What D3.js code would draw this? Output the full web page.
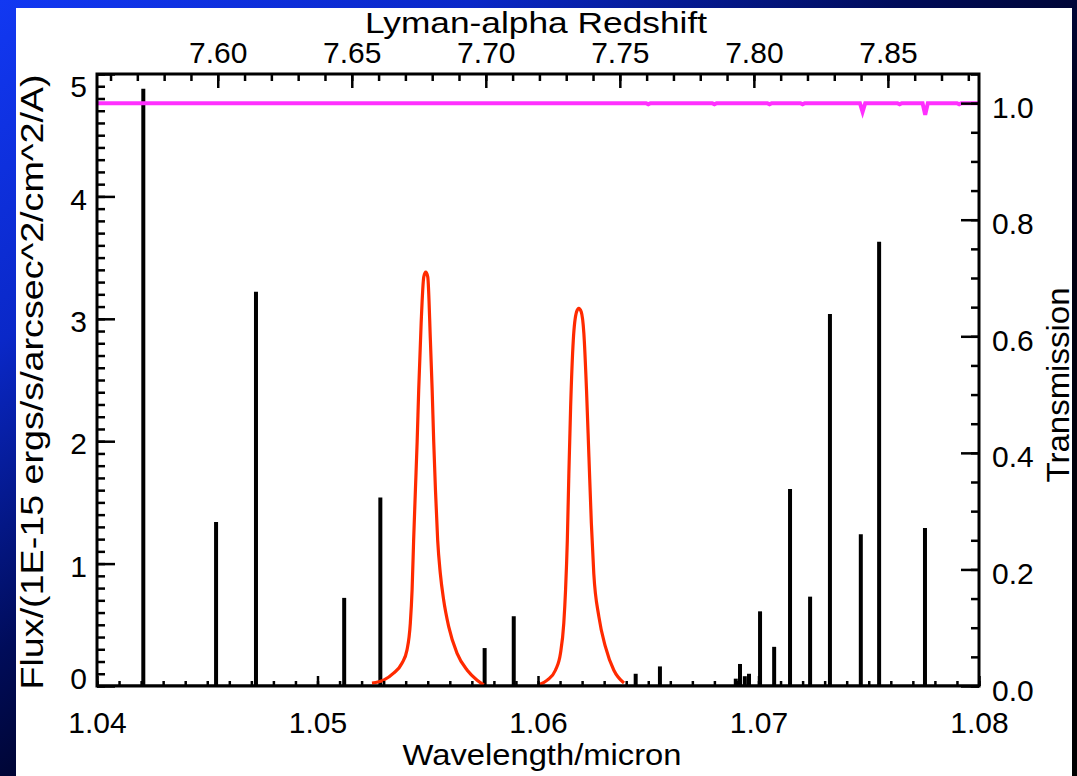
<!DOCTYPE html>
<html>
<head>
<meta charset="utf-8">
<script src="https://cdn.jsdelivr.net/npm/d3@7"></script>
<style>
  html, body { margin: 0; padding: 0; background: #000; }
  svg { display: block; }
  text { font-family: "Liberation Sans", Arial, Helvetica, sans-serif; fill: #000; }
</style>
</head>
<body>
<svg id="chart" width="1077" height="776"></svg>
<script>
// ---- Emission lines of the sky spectrum (wavelength in micron, flux in 1E-15 erg/s/arcsec^2/cm^2/A)
const lineWavelengths = [1.04210, 1.04540, 1.04721, 1.05121, 1.05285, 1.05758, 1.05890,
                         1.06443, 1.06553, 1.06897, 1.06916, 1.06938, 1.06957, 1.07007,
                         1.07071, 1.07143, 1.07234, 1.07324, 1.07464, 1.07547, 1.07755];
const lineFluxes      = [4.88, 1.34, 3.22, 0.72, 1.54, 0.31, 0.57,
                         0.10, 0.16, 0.06, 0.18, 0.08, 0.10, 0.61,
                         0.32, 1.61, 0.73, 3.04, 1.24, 3.63, 1.29];

// ---- Narrow-band filter A transmission
const filterAWavelengths = [1.05247, 1.05300, 1.05345, 1.05383, 1.05406, 1.05421, 1.05429,
                            1.05436, 1.05444, 1.05452, 1.05459, 1.05470, 1.05482, 1.05491,
                            1.05500, 1.05512, 1.05520, 1.05527, 1.05535, 1.05545, 1.05557,
                            1.05572, 1.05595, 1.05633, 1.05679, 1.05724, 1.05754];
const filterATrans       = [0.005, 0.010, 0.022, 0.039, 0.062, 0.108, 0.165,
                            0.250, 0.336, 0.420, 0.508, 0.622, 0.702, 0.710,
                            0.702, 0.593, 0.508, 0.420, 0.336, 0.250, 0.193,
                            0.148, 0.102, 0.056, 0.027, 0.010, 0.002];

// ---- Narrow-band filter B transmission
const filterBWavelengths = [1.06004, 1.06042, 1.06079, 1.06102, 1.06117, 1.06125, 1.06133,
                            1.06140, 1.06148, 1.06160, 1.06175, 1.06185, 1.06196, 1.06208,
                            1.06220, 1.06231, 1.06242, 1.06253, 1.06276, 1.06306, 1.06344,
                            1.06390];
const filterBTrans       = [0.002, 0.010, 0.027, 0.056, 0.108, 0.165, 0.250,
                            0.365, 0.479, 0.593, 0.642, 0.648, 0.642, 0.605,
                            0.508, 0.393, 0.279, 0.193, 0.119, 0.067, 0.027,
                            0.005];

// ---- Atmospheric transmission
const atmWavelengths = [1.04000, 1.06490, 1.06500, 1.06510, 1.06790, 1.06800, 1.06810,
                        1.07040, 1.07050, 1.07060, 1.07190, 1.07200, 1.07210,
                        1.07460, 1.07472, 1.07484, 1.07630, 1.07640, 1.07650,
                        1.07744, 1.07756, 1.07768, 1.07900, 1.07910, 1.07920, 1.08000];
const atmTrans       = [1.000, 1.000, 0.998, 1.000, 1.000, 0.998, 1.000,
                        1.000, 0.998, 1.000, 1.000, 0.998, 1.000,
                        1.000, 0.985, 1.000, 1.000, 0.998, 1.000,
                        1.000, 0.980, 1.000, 1.000, 0.998, 1.000, 1.000];

// ---- Axis ticks and labels
const waveTicks   = [1.04, 1.05, 1.06, 1.07, 1.08];
const waveLabels  = ["1.04", "1.05", "1.06", "1.07", "1.08"];
const fluxTicks   = [0, 1, 2, 3, 4, 5];
const fluxLabels  = ["0", "1", "2", "3", "4", "5"];
const transTicks  = [0.0, 0.2, 0.4, 0.6, 0.8, 1.0];
const transLabels = ["0.0", "0.2", "0.4", "0.6", "0.8", "1.0"];
const zTicks      = [7.60, 7.65, 7.70, 7.75, 7.80, 7.85];
const zLabels     = ["7.60", "7.65", "7.70", "7.75", "7.80", "7.85"];

const LYA_REST = 0.121567; // Lyman-alpha rest wavelength, micron

// ---- Layout
const W = 1077, H = 776;
const plot = { left: 97, right: 979, top: 74, bottom: 686 };

const svg = d3.select("#chart");

// Framed background
const defs = svg.append("defs");
const grad = defs.append("linearGradient")
  .attr("id", "bgGrad").attr("x1", 0).attr("y1", 0).attr("x2", 1).attr("y2", 1);
[[0, "#1238f2"], [0.22, "#0a28c8"], [0.42, "#000c5a"], [0.58, "#000016"], [1, "#000000"]]
  .forEach(([o, c]) => grad.append("stop").attr("offset", o).attr("stop-color", c));
svg.append("rect").attr("width", W).attr("height", H).attr("fill", "url(#bgGrad)");
svg.append("rect").attr("x", 16).attr("y", 8).attr("width", 1056).attr("height", H - 8).attr("fill", "#fff");

defs.append("clipPath").attr("id", "plotClip").append("rect")
  .attr("x", plot.left).attr("y", plot.top)
  .attr("width", plot.right - plot.left).attr("height", plot.bottom - plot.top);

// ---- Scales
const x = d3.scaleLinear().domain([1.04, 1.08]).range([plot.left, plot.right]);
const yFlux = d3.scaleLinear().domain([0, 5]).range([plot.bottom, plot.top]);
const yTrans = d3.scaleLinear().domain([0, 1.05]).range([plot.bottom, plot.top]);
const zScale = d3.scaleLinear()
  .domain([1.04 / LYA_REST - 1, 1.08 / LYA_REST - 1])
  .range([plot.left, plot.right]);

const gPlot = svg.append("g").attr("clip-path", "url(#plotClip)");

// ---- Sky emission spectrum: continuum along zero plus one stick per line
gPlot.append("line")
  .attr("x1", x(1.04)).attr("x2", x(1.08))
  .attr("y1", yFlux(0)).attr("y2", yFlux(0))
  .attr("stroke", "#000").attr("stroke-width", 3);
gPlot.selectAll("line.skyline")
  .data(d3.zip(lineWavelengths, lineFluxes))
  .join("line").attr("class", "skyline")
  .attr("x1", d => x(d[0])).attr("x2", d => x(d[0]))
  .attr("y1", yFlux(0)).attr("y2", d => yFlux(d[1]))
  .attr("stroke", "#000").attr("stroke-width", 4);

// ---- Filter transmission curves
const transLine = d3.line()
  .x(d => x(d[0])).y(d => yTrans(d[1]))
  .curve(d3.curveMonotoneX);
[[filterAWavelengths, filterATrans], [filterBWavelengths, filterBTrans]].forEach(([wl, tr]) => {
  gPlot.append("path")
    .datum(d3.zip(wl, tr))
    .attr("d", transLine)
    .attr("fill", "none").attr("stroke", "#ff2a00").attr("stroke-width", 3.2)
    .attr("stroke-linejoin", "round");
});

// ---- Atmospheric transmission
gPlot.append("path")
  .datum(d3.zip(atmWavelengths, atmTrans))
  .attr("d", d3.line().x(d => x(d[0])).y(d => yTrans(d[1])))
  .attr("fill", "none").attr("stroke", "#ff30ff").attr("stroke-width", 4);

// ---- Axes (ticks point inward)
const FONT = 30;
function styleAxis(g) {
  g.select(".domain").remove();
  g.selectAll(".tick line").attr("stroke", "#000").attr("stroke-width", 2.5);
  g.selectAll(".tick text").attr("font-size", FONT).attr("fill", "#000")
    .attr("font-family", "Liberation Sans, Arial, sans-serif");
}
const range01 = (a, b, s) => d3.range(Math.round(a / s), Math.round(b / s) + 1).map(k => +(k * s).toFixed(4));

// Bottom: wavelength
svg.append("g").attr("transform", `translate(0,${plot.bottom})`)
  .call(d3.axisBottom(x).tickValues(range01(1.04, 1.08, 0.001)).tickSize(-5).tickSizeOuter(0).tickFormat(""))
  .call(styleAxis);
svg.append("g").attr("transform", `translate(0,${plot.bottom})`)
  .call(d3.axisBottom(x).tickValues(waveTicks).tickSize(-10).tickSizeOuter(0).tickPadding(26)
    .tickFormat((d, i) => waveLabels[i]))
  .call(styleAxis);

// Left: flux
svg.append("g").attr("transform", `translate(${plot.left},0)`)
  .call(d3.axisLeft(yFlux).tickValues(range01(0, 5, 0.1)).tickSize(-8).tickSizeOuter(0).tickFormat(""))
  .call(styleAxis);
const gLeft = svg.append("g").attr("transform", `translate(${plot.left},0)`)
  .call(d3.axisLeft(yFlux).tickValues(fluxTicks).tickSize(-18).tickSizeOuter(0).tickPadding(10)
    .tickFormat((d, i) => fluxLabels[i]))
  .call(styleAxis);
gLeft.selectAll(".tick text").attr("dy", d => d === 5 ? "0.76em" : d === 0 ? "0.07em" : "0.42em");

// Right: transmission
svg.append("g").attr("transform", `translate(${plot.right},0)`)
  .call(d3.axisRight(yTrans).tickValues(range01(0, 1.05, 0.05)).tickSize(-8).tickSizeOuter(0).tickFormat(""))
  .call(styleAxis);
const gRight = svg.append("g").attr("transform", `translate(${plot.right},0)`)
  .call(d3.axisRight(yTrans).tickValues(transTicks).tickSize(-18).tickSizeOuter(0).tickPadding(13)
    .tickFormat((d, i) => transLabels[i]))
  .call(styleAxis);
gRight.selectAll(".tick text").attr("dy", "0.47em");

// Top: Lyman-alpha redshift
const zDom = zScale.domain();
svg.append("g").attr("transform", `translate(0,${plot.top})`)
  .call(d3.axisTop(zScale).tickValues(range01(7.56, 7.88, 0.01).filter(v => v >= zDom[0] && v <= zDom[1]))
    .tickSize(-7).tickSizeOuter(0).tickFormat(""))
  .call(styleAxis);
svg.append("g").attr("transform", `translate(0,${plot.top})`)
  .call(d3.axisTop(zScale).tickValues(zTicks).tickSize(-14).tickSizeOuter(0).tickPadding(11)
    .tickFormat((d, i) => zLabels[i]))
  .call(styleAxis);

// Frame
svg.append("rect")
  .attr("x", plot.left).attr("y", plot.top)
  .attr("width", plot.right - plot.left).attr("height", plot.bottom - plot.top)
  .attr("fill", "none").attr("stroke", "#000").attr("stroke-width", 3);

// ---- Axis titles
svg.append("text")
  .attr("x", 536).attr("y", 33).attr("text-anchor", "middle")
  .attr("font-size", 30).attr("textLength", 342).attr("lengthAdjust", "spacingAndGlyphs")
  .text("Lyman-alpha Redshift");
svg.append("text")
  .attr("x", 542).attr("y", 765).attr("text-anchor", "middle")
  .attr("font-size", 30).attr("textLength", 279).attr("lengthAdjust", "spacingAndGlyphs")
  .text("Wavelength/micron");
svg.append("text")
  .attr("transform", "translate(43,382) rotate(-90)").attr("text-anchor", "middle")
  .attr("font-size", 31).attr("textLength", 615).attr("lengthAdjust", "spacingAndGlyphs")
  .text("Flux/(1E-15 ergs/s/arcsec^2/cm^2/A)");
svg.append("text")
  .attr("transform", "translate(1069,385) rotate(-90)").attr("text-anchor", "middle")
  .attr("font-size", 31).attr("textLength", 195).attr("lengthAdjust", "spacingAndGlyphs")
  .text("Transmission");
</script>
</body>
</html>
